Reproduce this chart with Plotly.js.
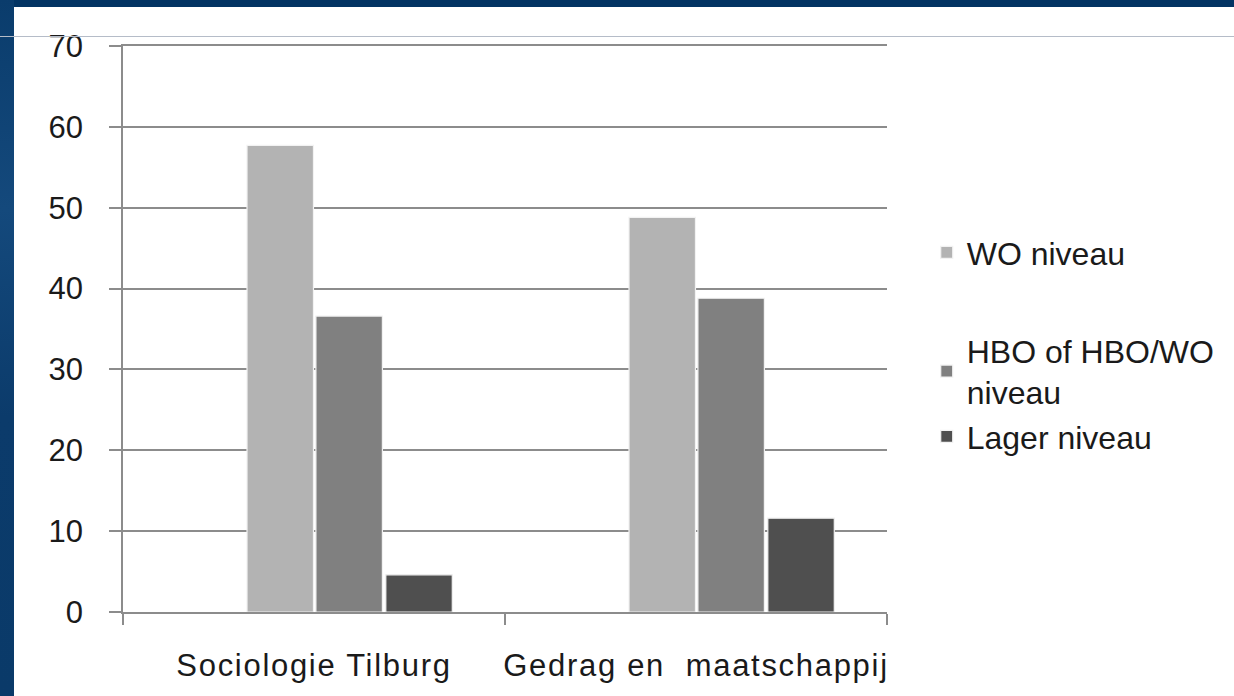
<!DOCTYPE html>
<html>
<head>
<meta charset="utf-8">
<script src="https://cdn.plot.ly/plotly-3.0.1.min.js"></script>
<style>
  html, body { margin: 0; padding: 0; background: #ffffff; }
  #chart { position: absolute; left: 0; top: 0; width: 1234px; height: 696px; }
  #chart g.xtick text { letter-spacing: 1.7px; }
  .band-top { position: absolute; left: 0; top: 0; width: 1234px; height: 7px; background: #033463; z-index: 5; }
  .band-left { position: absolute; left: 0; top: 0; width: 14px; height: 696px; background: linear-gradient(180deg, #0a3c6c 0%, #14497c 30%, #0b3b6b 60%, #0a3a69 100%); z-index: 5; }
  .rule { position: absolute; left: 0; top: 36px; width: 1234px; height: 1px; background: #b5bcc8; z-index: 6; }
</style>
</head>
<body>
<div id="chart"></div>
<div class="band-top"></div>
<div class="band-left"></div>
<div class="rule"></div>
<script>
const categories = ["Sociologie Tilburg", "Gedrag en  maatschappij"];
const seriesNames = ["WO niveau", "HBO of HBO/WO<br>niveau", "Lager niveau"];
const woValues = [57.7, 48.8];
const hboValues = [36.6, 38.8];
const lagerValues = [4.6, 11.6];
const yTicks = [0, 10, 20, 30, 40, 50, 60, 70];

const colors = ["#b3b3b3", "#808080", "#4f4f4f"];
const offsets = [-0.1754, 0.005, 0.188];
const barWidth = 0.174;
const values = [woValues, hboValues, lagerValues];
const legends = ["legend", "legend2", "legend3"];

const traces = values.map((v, i) => ({
  type: "bar",
  name: seriesNames[i],
  x: categories,
  y: v,
  width: barWidth,
  offset: offsets[i],
  legend: legends[i],
  marker: { color: colors[i], line: { color: "#f2f2f2", width: 1.2 } },
  hoverinfo: "x+y+name"
}));

const font = { family: "Liberation Sans, Arial, sans-serif", size: 31, color: "#1a1a1a" };
const legendFont = { family: "Liberation Sans, Arial, sans-serif", size: 32, color: "#1a1a1a" };
const legendBase = {
  xref: "paper", yref: "paper", xanchor: "left", yanchor: "middle",
  bgcolor: "rgba(0,0,0,0)", font: legendFont, itemwidth: 30, tracegroupgap: 0
};

const layout = {
  width: 1234, height: 696,
  margin: { l: 123, r: 347, t: 46, b: 84, pad: 0 },
  paper_bgcolor: "#ffffff",
  plot_bgcolor: "#ffffff",
  font: font,
  showlegend: true,
  barmode: "overlay",
  xaxis: {
    type: "category",
    showline: true,
    mirror: true,
    linecolor: "#8c8c8c",
    linewidth: 1.6,
    showgrid: false,
    ticks: "outside",
    tickson: "boundaries",
    ticklen: 11,
    tickwidth: 1.6,
    tickcolor: "#8c8c8c",
    tickfont: font,
    ticklabelstandoff: 25,
    zeroline: false,
    fixedrange: true
  },
  yaxis: {
    range: [0, 70],
    tickvals: yTicks,
    ticktext: yTicks.map(String),
    showgrid: true,
    gridcolor: "#8c8c8c",
    gridwidth: 1.6,
    showline: true,
    linecolor: "#8c8c8c",
    linewidth: 1.6,
    ticks: "outside",
    ticklen: 12,
    tickwidth: 1.6,
    tickcolor: "#8c8c8c",
    tickfont: font,
    ticklabelstandoff: 20,
    zeroline: false,
    fixedrange: true
  },
  legend: Object.assign({}, legendBase, { x: 1.052, y: 0.635 }),
  legend2: Object.assign({}, legendBase, { x: 1.052, y: 0.425 }),
  legend3: Object.assign({}, legendBase, { x: 1.052, y: 0.31 })
};

Plotly.newPlot("chart", traces, layout, { displayModeBar: false, staticPlot: false });
</script>
</body>
</html>
